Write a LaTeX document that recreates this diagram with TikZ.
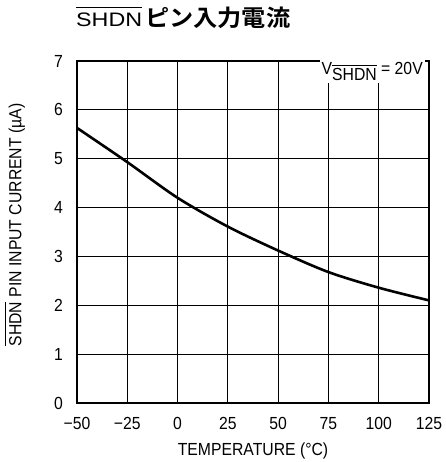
\documentclass[tikz,border=0pt]{standalone}
\usepackage{fontspec}
\setmainfont{Liberation Sans}[FakeStretch=0.9]
\newfontfamily\titlefont{Liberation Sans}
\newfontfamily\jpfont{Noto Sans CJK JP Bold}
\usetikzlibrary{arrows}
\newcommand\barred[2][4pt]{\vbox{\hrule height 0.9pt\kern#1\hbox{#2}}}
\newcommand\axisfont{\fontsize{17.5}{20}\selectfont}

\begin{document}
\begin{tikzpicture}

\tikzset{gridline/.style={draw, line width=0.8pt},
  plotframe/.style={draw, line width=1.5pt},
  datacurve/.style={draw, line width=2.6pt},
  ticklabel/.style={font=\axisfont, inner sep=0pt},
  axislabel/.style={font=\axisfont, inner sep=0pt}
}
\useasboundingbox (0,0) rectangle (445pt,462pt);

\node[anchor=base west, inner sep=0pt] (title) at (76pt,435pt)
  {\titlefont\fontsize{19.5}{22}\selectfont\barred[5pt]{\resizebox{66pt}{\height}{SHDN}}\hspace{3pt}%
   \resizebox{145pt}{\height}{\jpfont\fontsize{23}{26}\selectfont ピン入力電流}};

\begin{scope}[x=2.0114pt, y=48.857pt, shift={(177.57pt,59pt)}]
\foreach \t in {-25,0,...,100} \draw[gridline] (\t,0) -- (\t,7);
\foreach \v in {1,...,6} \draw[gridline] (-50,\v) -- (125,\v);
\draw[plotframe] (-50,0) rectangle (125,7);

\foreach \t/\lab in {-50/−50,-25/−25,0/0,25/25,50/50,75/75,100/100,125/125}
  \node[ticklabel, below=14pt] (x\t) at (\t,0) {\lab};
\foreach \v in {0,...,7}
  \node[ticklabel, left=14pt] (y\v) at (-50,\v) {\v};

\draw[datacurve] plot[smooth] coordinates {(-50,5.63) (-25,4.93) (0,4.2) (25,3.61)
  (50,3.12) (75,2.68) (100,2.36) (125,2.1)};

\node[axislabel, fill=white, inner sep=2pt, anchor=base east] (vlabel) at (123,6.72)
  {V\raisebox{-6pt}{\barred[2.5pt]{SHDN}} = 20V};
\end{scope}

\node[axislabel, anchor=base] (xlabel) at (253pt,6pt) {TEMPERATURE (°C)};
\node[axislabel, rotate=90] (ylabel) at (15pt,237pt) {\barred[3.5pt]{SHDN} PIN INPUT CURRENT (µA)};
\end{tikzpicture}
\end{document}
